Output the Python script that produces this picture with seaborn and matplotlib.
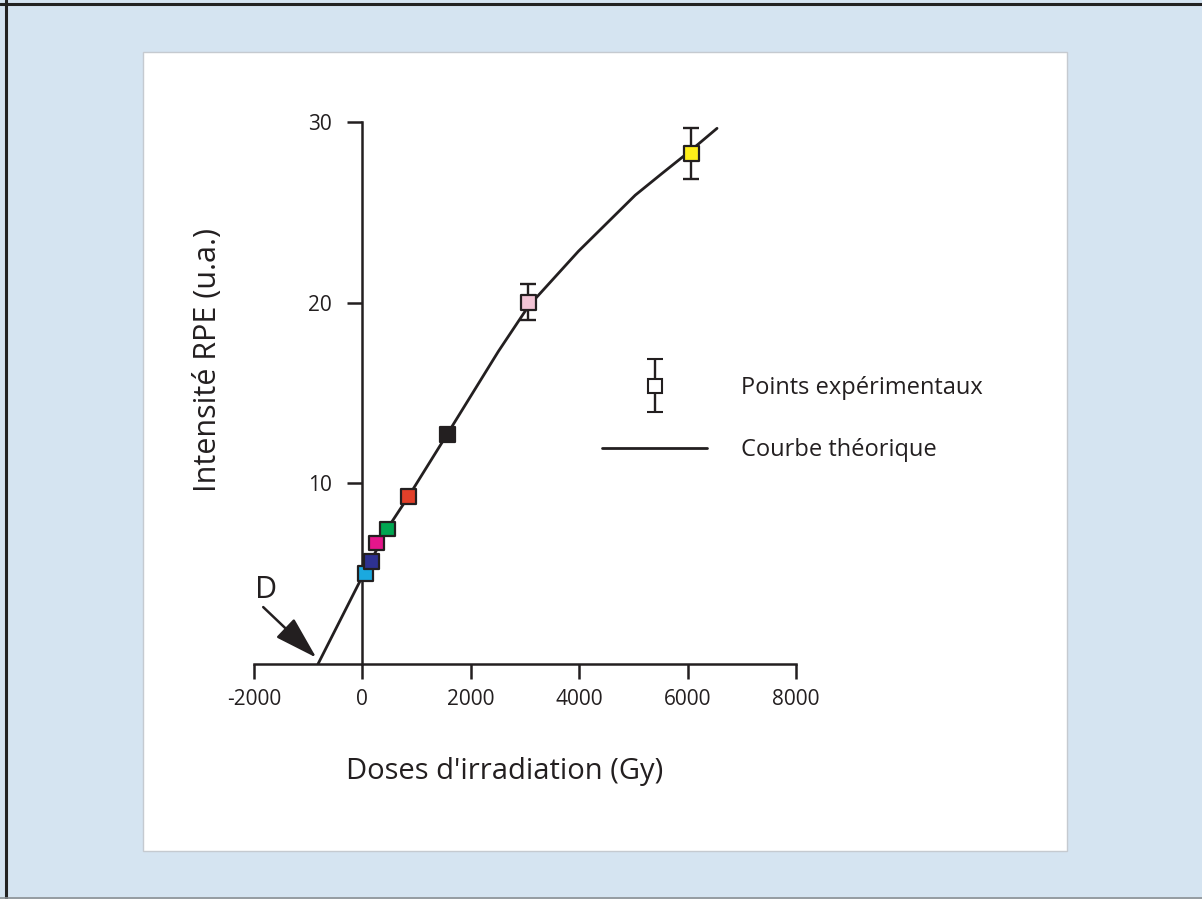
import numpy as np
import pandas as pd
import matplotlib
matplotlib.use("Agg")
import matplotlib.pyplot as plt
import seaborn as sns
from matplotlib.patches import Rectangle
from matplotlib.lines import Line2D
from matplotlib.legend_handler import HandlerErrorbar

# ---------------- data ----------------
samples = ["S1", "S2", "S3", "S4", "S5", "S6", "S7", "S8"]
doses = [55, 166, 265, 462, 856, 1571, 3063, 6069]
intensities = [5.0, 5.65, 6.7, 7.47, 9.26, 12.7, 20.03, 28.26]
sample_colors = ["#1ba9df", "#2e3192", "#e5168b", "#00a651",
                 "#e2402a", "#231f20", "#f2c4d5", "#ffef1a"]

err_doses = [3063, 6069]
err_values = [20.03, 28.26]
err_sizes = [1.0, 1.43]

curve_doses = [-819, 0, 166, 462, 856, 1571, 2508, 3063, 3987, 5034, 5527, 6069, 6543]
curve_values = [0.0, 4.85, 5.75, 7.5, 9.3, 12.75, 17.3, 19.8, 22.85, 25.95, 27.15, 28.45, 29.65]

x_ticks = [-2000, 0, 2000, 4000, 6000, 8000]
y_ticks = [10, 20, 30]

x_label = "Doses d'irradiation (Gy)"
y_label = "Intensité RPE (u.a.)"
legend_labels = ["Points expérimentaux", "Courbe théorique"]
intercept_label = "D"

# ---------------- style ----------------
sns.set_theme(style="white")
plt.rcParams["font.family"] = ["Open Sans", "DejaVu Sans"]
INK = "#231f20"
W, H = 1202, 899

fig = plt.figure(figsize=(W / 100, H / 100), dpi=100)
fig.patch.set_facecolor("#d5e4f1")

# white panel
fig.add_artist(Rectangle((143 / W, 1 - 851 / H), (1067 - 143) / W, (851 - 52) / H,
                         transform=fig.transFigure, facecolor="white",
                         edgecolor="#c5cad0", lw=1.0, zorder=-1))
# frame lines
fig.add_artist(Line2D([5.5 / W, 5.5 / W], [0, 1], transform=fig.transFigure,
                      color="#222222", lw=2.2, zorder=5))
fig.add_artist(Line2D([0, 1], [1 - 3.5 / H, 1 - 3.5 / H], transform=fig.transFigure,
                      color="#222222", lw=2.2, zorder=5))
fig.add_artist(Line2D([0, 1], [1 - 897.5 / H, 1 - 897.5 / H], transform=fig.transFigure,
                      color="#8a8f94", lw=1.2, zorder=5))

ax = fig.add_axes([254 / W, 1 - 664 / H, (796 - 254) / W, (664 - 122) / H])
ax.set_facecolor("none")

df_points = pd.DataFrame({"sample": samples, "dose": doses, "intensity": intensities})
df_curve = pd.DataFrame({"dose": curve_doses, "intensity": curve_values})

sns.lineplot(data=df_curve, x="dose", y="intensity", color=INK, lw=2.0,
             sort=False, ax=ax, zorder=2)
curve_line = ax.get_lines()[-1]
curve_line.set_solid_joinstyle("round")
curve_line.set_solid_capstyle("round")

ax.errorbar(err_doses, err_values, yerr=err_sizes, fmt="none", ecolor=INK,
            elinewidth=1.7, capsize=6, capthick=1.7, zorder=2.5)

sns.scatterplot(data=df_points, x="dose", y="intensity", hue="sample",
                palette=sample_colors, marker="s", s=115, edgecolor=INK,
                linewidth=1.6, legend=False, ax=ax, zorder=3)

# legend entry for experimental points
leg_err = ax.errorbar([np.nan], [np.nan], yerr=[np.nan], fmt="s", mfc="white",
                      mec=INK, mew=1.5, ms=10, ecolor=INK, elinewidth=1.7,
                      capsize=6, capthick=1.7)

ax.legend(handles=[leg_err, curve_line], labels=legend_labels,
          handler_map={type(leg_err): HandlerErrorbar(yerr_size=1.12)},
          loc="center left", bbox_to_anchor=(602 / W, 1 - 419 / H),
          bbox_transform=fig.transFigure, frameon=False, fontsize=17,
          handlelength=4.45, handletextpad=1.44, labelspacing=1.6,
          borderpad=0, borderaxespad=0, labelcolor=INK)

# intercept annotation
ax.text(-1785, 4.1, intercept_label, ha="center", va="center", fontsize=22, color=INK)
ax.annotate("", xy=(-850, 0.35), xytext=(-1830, 3.15),
            arrowprops=dict(arrowstyle="-|>,head_length=0.9,head_width=0.27",
                            color=INK, lw=1.8, mutation_scale=30,
                            shrinkA=0, shrinkB=0),
            annotation_clip=False)

# axes
ax.set_xlim(-2000, 8000)
ax.set_ylim(0, 30)
ax.set_xticks(x_ticks)
ax.set_yticks(y_ticks)
ax.set_xticklabels([str(t) for t in x_ticks])
ax.set_yticklabels([str(t) for t in y_ticks])
ax.grid(False)
for s in ["top", "right"]:
    ax.spines[s].set_visible(False)
ax.spines["left"].set_position(("data", 0))
for s in ["left", "bottom"]:
    ax.spines[s].set_linewidth(1.8)
    ax.spines[s].set_color(INK)

ax.tick_params(axis="both", colors=INK, labelsize=15, width=1.8, length=11,
               direction="out", left=True, bottom=True)
ax.tick_params(axis="y", pad=11)
ax.tick_params(axis="x", pad=7)

ax.set_xlabel(x_label, fontsize=21, color=INK)
ax.set_ylabel(y_label, fontsize=22, color=INK)
ax.xaxis.label.set_va("center")
ax.yaxis.label.set_va("center")
ax.xaxis.set_label_coords((505 - 254) / (796 - 254), (664 - 771) / (664 - 122))
ax.yaxis.set_label_coords((208 - 254) / (796 - 254), (664 - 360) / (664 - 122))

fig.savefig("out.png", dpi=100, facecolor=fig.get_facecolor())
